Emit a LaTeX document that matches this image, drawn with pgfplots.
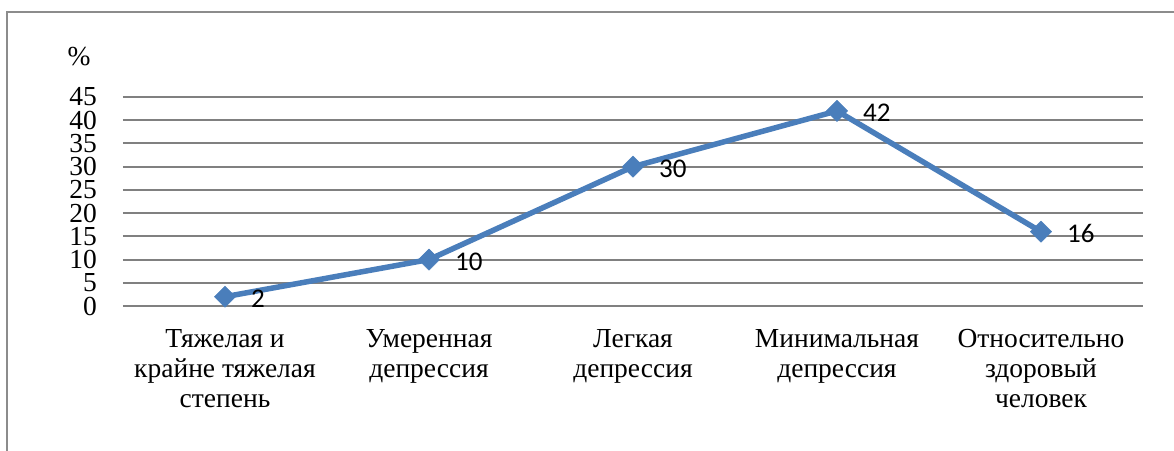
\documentclass[border=0pt]{standalone}
\usepackage{pgfplots}
\pgfplotsset{compat=1.18}
\usepackage{fontspec}
\setmainfont{Liberation Serif}
\newfontfamily\calibri{Carlito}

\definecolor{lineblue}{RGB}{74,126,187}
\definecolor{gridgray}{RGB}{128,128,128}
\definecolor{framegray}{RGB}{140,140,140}

\begin{document}
\begin{tikzpicture}
\begin{axis}[
    at={(0pt,0pt)}, anchor=south west,
    width=1020pt, height=209pt, scale only axis,
    xmin=0.5, xmax=5.5, ymin=0, ymax=45,
    xtick={1,...,5},
    xticklabels={{Тяжелая и\\крайне тяжелая\\степень},{Умеренная\\депрессия},{Легкая\\депрессия},{Минимальная\\депрессия},{Относительно\\здоровый\\человек}},
    ytick={0,5,...,45},
    ymajorgrids,
    major grid style={gridgray, line width=2pt},
    axis line style={draw=none},
    tick style={draw=none},
    /pgf/number format/assume math mode=true,
    xticklabel style={font=\fontsize{27.5}{30}\selectfont, align=center, anchor=north, inner sep=0pt, yshift=-23pt},
    yticklabel style={font=\fontsize{27.5}{30}\selectfont, anchor=east, inner sep=0pt, xshift=-26pt},
    ylabel={\%},
    every axis y label/.style={at={(rel axis cs:0,1)}, anchor=center, xshift=-44pt, yshift=40pt, font=\fontsize{27.5}{30}\selectfont},
    clip=false,
    nodes near coords,
    nodes near coords style={font=\calibri\fontsize{27}{30}\selectfont, anchor=west, inner sep=0pt, xshift=26pt, yshift=-2pt, text=black},
]
\addplot[lineblue, line width=5.5pt, line join=round, mark=square*, mark size=7.5pt,
    mark options={rotate=45, line width=0.5pt, fill=lineblue}]
    coordinates {(1,2) (2,10) (3,30) (4,42) (5,16)};
\end{axis}
\pgfresetboundingbox
\path[use as bounding box] (-123pt,-144pt) rectangle (1051pt,306pt);
\draw[framegray, line width=1.8pt] (-116pt,-200pt) -- (-116pt,294pt) -- (1100pt,294pt);
\end{tikzpicture}
\end{document}
